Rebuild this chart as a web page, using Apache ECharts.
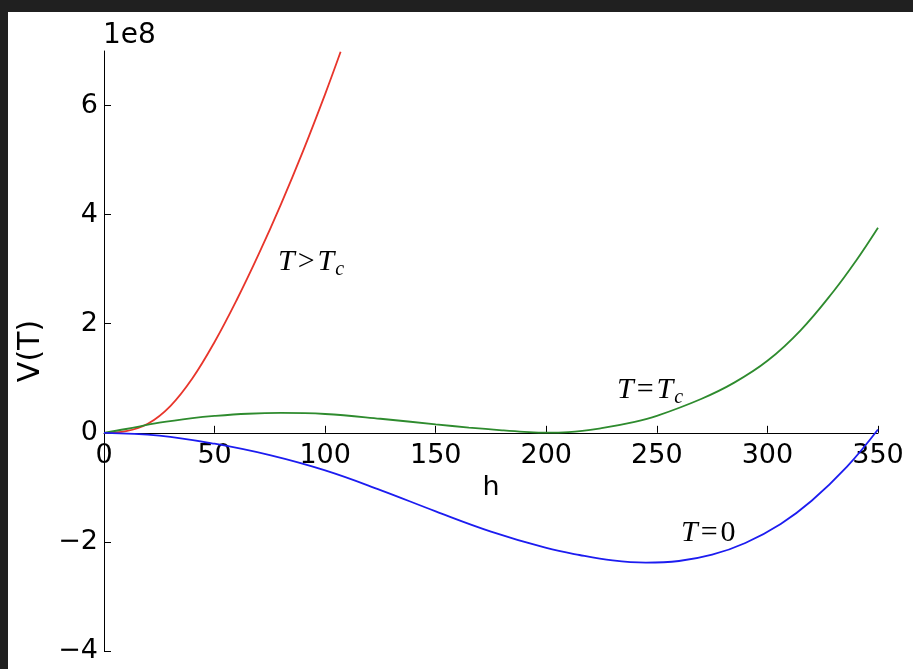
<!DOCTYPE html>
<html>
<head>
<meta charset="utf-8">
<script src="https://cdn.jsdelivr.net/npm/echarts@6/dist/echarts.min.js"></script>
<style>
  html, body { margin: 0; padding: 0; background: #202020; width: 913px; height: 669px; overflow: hidden; }
  #chart { position: absolute; left: 8px; top: 12px; width: 905px; height: 657px; background: #ffffff; }
</style>
</head>
<body>
<div id="chart"></div>
<script>
// Higgs potential V(h) at three temperatures; V in units of 1e8
const xTicks = [0, 50, 100, 150, 200, 250, 300, 350];
const yTicks = [-4, -2, 0, 2, 4, 6];

// T > Tc
const hHot = [0, 10, 20, 30, 40, 50, 60, 70, 80, 90, 100, 107];
const vHot = [0, 0.03, 0.17, 0.49, 1.0, 1.665, 2.435, 3.28, 4.19, 5.165, 6.21, 6.985];

// T = Tc
const hCrit = [0, 10, 25, 40, 50, 65, 80, 100, 125, 150, 165, 180, 190, 200, 210, 225, 240, 250, 270, 285, 300, 315, 330, 340, 350];
const vCrit = [0, 0.07, 0.185, 0.27, 0.31, 0.35, 0.365, 0.345, 0.258, 0.155, 0.097, 0.046, 0.018, 0.002, 0.012, 0.085, 0.2, 0.31, 0.62, 0.92, 1.32, 1.88, 2.6, 3.15, 3.76];

// T = 0
const hZero = [0, 25, 50, 75, 100, 125, 150, 175, 200, 215, 230, 245, 260, 275, 290, 306, 320, 336, 350];
const vZero = [0, -0.05, -0.2, -0.41, -0.69, -1.05, -1.44, -1.81, -2.11, -2.24, -2.34, -2.38, -2.35, -2.235, -2.02, -1.67, -1.245, -0.62, 0.06];

const RED = '#e8352b', GREEN = '#2e8b2e', BLUE = '#1c1cf0';
const zip = (xs, ys) => xs.map((x, i) => [x, ys[i]]);
const tickFont = { fontFamily: 'DejaVu Sans', fontSize: 27, color: '#000' };
const fmt = v => (v < 0 ? '\u2212' + Math.abs(v) : String(v));

const mathRich = color => ({
  i: { fontFamily: 'Liberation Serif', fontStyle: 'italic', fontSize: 30, color },
  r: { fontFamily: 'Liberation Serif', fontSize: 30, color, padding: [0, 3, 0, 3] },
  n: { fontFamily: 'Liberation Serif', fontSize: 30, color },
  s: { fontFamily: 'Liberation Serif', fontStyle: 'italic', fontSize: 20, color, padding: [16, 0, 0, 1] }
});

// grid geometry: the x axis sits on V = 0
const GRID_H = 600, Y_MIN = -4, Y_MAX = 7;
const zeroOffset = -GRID_H * (0 - Y_MIN) / (Y_MAX - Y_MIN);

const chart = echarts.init(document.getElementById('chart'), null, { renderer: 'canvas' });
chart.setOption({
  animation: false,
  backgroundColor: '#ffffff',
  grid: { left: 96, top: 39, width: 774, height: GRID_H, containLabel: false, outerBoundsMode: 'none' },
  xAxis: {
    type: 'value', min: 0, max: 350, interval: 50,
    offset: zeroOffset,
    axisLine: { onZero: false, lineStyle: { color: '#000', width: 1 } },
    axisTick: { inside: true, length: 7, lineStyle: { color: '#000' }, customValues: xTicks },
    axisLabel: { ...tickFont, margin: 10, customValues: xTicks, formatter: fmt },
    splitLine: { show: false },
    name: 'h', nameLocation: 'middle', nameGap: 37,
    nameTextStyle: { fontFamily: 'DejaVu Sans', fontSize: 27, color: '#000' }
  },
  yAxis: {
    type: 'value', min: Y_MIN, max: Y_MAX, interval: 2,
    axisLine: { onZero: false, lineStyle: { color: '#000', width: 1 } },
    axisTick: { inside: true, length: 7, lineStyle: { color: '#000' }, customValues: yTicks },
    axisLabel: { ...tickFont, margin: 6, customValues: yTicks, formatter: fmt },
    splitLine: { show: false },
    name: 'V(T)', nameLocation: 'middle', nameRotate: 90, nameGap: 58,
    nameTextStyle: { fontFamily: 'DejaVu Sans', fontSize: 30, color: '#000' }
  },
  series: [
    { type: 'line', data: zip(hHot, vHot), showSymbol: false, smooth: 0.4, lineStyle: { color: RED, width: 1.8 }, z: 3 },
    { type: 'line', data: zip(hCrit, vCrit), showSymbol: false, smooth: 0.4, lineStyle: { color: GREEN, width: 1.8 }, z: 3 },
    { type: 'line', data: zip(hZero, vZero), showSymbol: false, smooth: 0.4, lineStyle: { color: BLUE, width: 1.8 }, z: 3 }
  ],
  graphic: [
    { type: 'text', left: 95, top: 10, style: { text: '1e8', fontFamily: 'DejaVu Sans', fontSize: 28, fill: '#000' } },
    { type: 'text', x: 270, y: 250, style: { text: '{i|T}{r|>}{i|T}{s|c}', rich: mathRich(RED), textVerticalAlign: 'middle' } },
    { type: 'text', x: 609, y: 378, style: { text: '{i|T}{r|=}{i|T}{s|c}', rich: mathRich(GREEN), textVerticalAlign: 'middle' } },
    { type: 'text', x: 673, y: 521, style: { text: '{i|T}{r|=}{n|0}', rich: mathRich(BLUE), textVerticalAlign: 'middle' } }
  ]
});
</script>
</body>
</html>
